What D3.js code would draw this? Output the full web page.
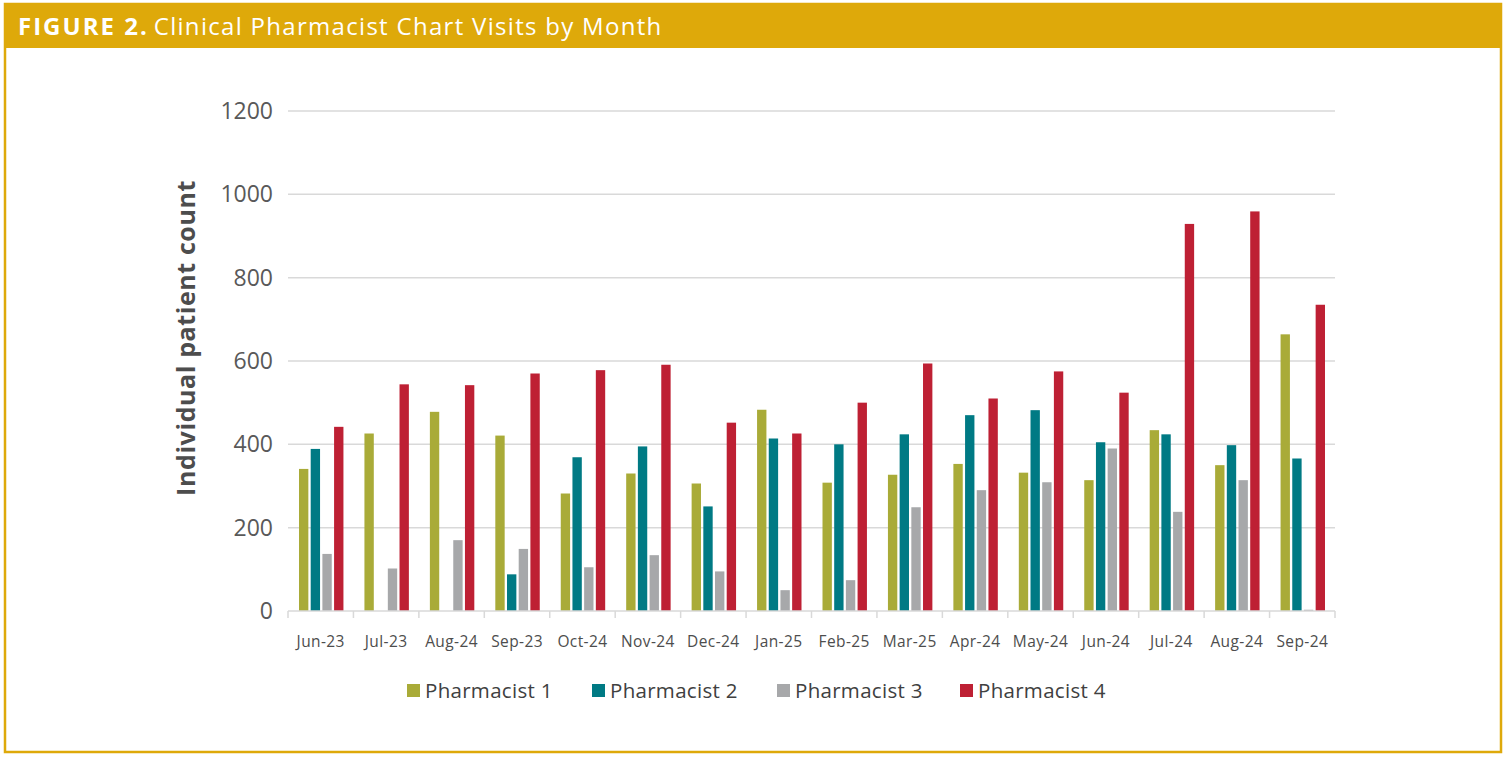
<!DOCTYPE html>
<html>
<head>
<meta charset="utf-8">
<script src="https://d3js.org/d3.v7.min.js"></script>
<style>
  body { margin: 0; background: #fff; }
  svg { display: block; font-family: "Open Sans", Lato, sans-serif; }
</style>
</head>
<body>
<script>
  // chart values
  const months = ['Jun-23', 'Jul-23', 'Aug-24', 'Sep-23', 'Oct-24', 'Nov-24', 'Dec-24', 'Jan-25',
    'Feb-25', 'Mar-25', 'Apr-24', 'May-24', 'Jun-24', 'Jul-24', 'Aug-24', 'Sep-24'];
  const seriesNames = ['Pharmacist 1', 'Pharmacist 2', 'Pharmacist 3', 'Pharmacist 4'];
  const pharmacist1 = [341, 426, 478, 421, 282, 330, 306, 483, 308, 327, 353, 332, 314, 434, 350, 664];
  const pharmacist2 = [389, 0, 0, 88, 369, 395, 251, 414, 400, 424, 470, 482, 405, 424, 398, 366];
  const pharmacist3 = [137, 102, 170, 149, 105, 134, 95, 50, 74, 249, 290, 309, 390, 238, 314, 3];
  const pharmacist4 = [442, 544, 542, 570, 578, 591, 452, 426, 500, 594, 510, 575, 524, 929, 959, 735];
  const yTicks = [0, 200, 400, 600, 800, 1000, 1200];
  const colors = ['#a9ab38', '#007a84', '#a7a8aa', '#be2034'];

  const allSeries = [pharmacist1, pharmacist2, pharmacist3, pharmacist4];

  const width = 1508, height = 758;
  const svg = d3.select('body').append('svg')
    .attr('width', width)
    .attr('height', height);

  // frame and title bar
  svg.append('rect')
    .attr('x', 5).attr('y', 4)
    .attr('width', 1496).attr('height', 748)
    .attr('fill', 'none')
    .attr('stroke', '#dea90a')
    .attr('stroke-width', 2.5);
  svg.append('rect')
    .attr('x', 4).attr('y', 3)
    .attr('width', 1498).attr('height', 45)
    .attr('fill', '#dea90a');

  const title = svg.append('text')
    .attr('x', 18).attr('y', 35)
    .attr('fill', '#fff')
    .attr('font-size', 24);
  title.append('tspan').attr('font-weight', 'bold').attr('letter-spacing', 2).text('FIGURE 2.');
  title.append('tspan').attr('dx', 5).attr('letter-spacing', 1.3).text('Clinical Pharmacist Chart Visits by Month');

  const plotLeft = 288, plotRight = 1335, plotTop = 111, plotBottom = 611;

  // index-based domain: month labels repeat (Aug-24 appears twice)
  const x = d3.scaleBand()
    .domain(d3.range(months.length))
    .range([plotLeft, plotRight]);

  const xInner = d3.scaleBand()
    .domain(d3.range(4))
    .range([11, x.bandwidth() - 10])
    .paddingInner(0.2);

  const y = d3.scaleLinear()
    .domain([0, 1200])
    .range([plotBottom, plotTop]);

  // gridlines
  svg.append('g')
    .selectAll('line')
    .data(yTicks.slice(1))
    .enter()
    .append('line')
    .attr('x1', plotLeft).attr('x2', plotRight)
    .attr('y1', d => y(d)).attr('y2', d => y(d))
    .attr('stroke', '#d9d9d9')
    .attr('stroke-width', 1.5);

  // y tick labels
  svg.append('g')
    .selectAll('text')
    .data(yTicks)
    .enter()
    .append('text')
    .attr('x', 273)
    .attr('y', d => y(d))
    .attr('dy', '0.35em')
    .attr('text-anchor', 'end')
    .attr('font-size', 23)
    .attr('fill', '#595959')
    .text(d => d);

  // y axis title
  svg.append('text')
    .attr('transform', 'translate(195,338) rotate(-90)')
    .attr('text-anchor', 'middle')
    .attr('font-size', 25)
    .attr('font-weight', 'bold')
    .attr('letter-spacing', 0.6)
    .attr('fill', '#4d4d4d')
    .text('Individual patient count');

  // bars
  const groups = svg.append('g')
    .selectAll('g')
    .data(months)
    .enter()
    .append('g')
    .attr('transform', (d, i) => 'translate(' + x(i) + ',0)');

  groups.selectAll('rect')
    .data((m, i) => allSeries.map((s, k) => ({ k: k, v: s[i] })))
    .enter()
    .append('rect')
    .attr('x', d => xInner(d.k))
    .attr('width', xInner.bandwidth())
    .attr('y', d => y(d.v))
    .attr('height', d => plotBottom - y(d.v))
    .attr('fill', d => colors[d.k]);

  // x axis line and ticks
  svg.append('line')
    .attr('x1', plotLeft).attr('x2', plotRight)
    .attr('y1', plotBottom).attr('y2', plotBottom)
    .attr('stroke', '#d9d9d9')
    .attr('stroke-width', 1.5);

  svg.append('g')
    .selectAll('line')
    .data(d3.range(months.length + 1))
    .enter()
    .append('line')
    .attr('x1', i => plotLeft + i * x.step())
    .attr('x2', i => plotLeft + i * x.step())
    .attr('y1', plotBottom).attr('y2', plotBottom + 7)
    .attr('stroke', '#d9d9d9')
    .attr('stroke-width', 1.5);

  svg.append('g')
    .selectAll('text')
    .data(months)
    .enter()
    .append('text')
    .attr('x', (d, i) => x(i) + x.bandwidth() / 2)
    .attr('y', 647)
    .attr('text-anchor', 'middle')
    .attr('font-size', 15.5)
    .attr('letter-spacing', 0.4)
    .attr('fill', '#4d4d4d')
    .text(d => d);

  // legend
  const legendX = [407, 592, 777, 960];
  const legend = svg.append('g')
    .selectAll('g')
    .data(seriesNames)
    .enter()
    .append('g')
    .attr('transform', (d, i) => 'translate(' + legendX[i] + ',684)');
  legend.append('rect')
    .attr('width', 13).attr('height', 13)
    .attr('fill', (d, i) => colors[i]);
  legend.append('text')
    .attr('x', 18).attr('y', 7)
    .attr('dy', '0.35em')
    .attr('font-size', 20.5)
    .attr('letter-spacing', 0.3)
    .attr('fill', '#404040')
    .text(d => d);
</script>
</body>
</html>
